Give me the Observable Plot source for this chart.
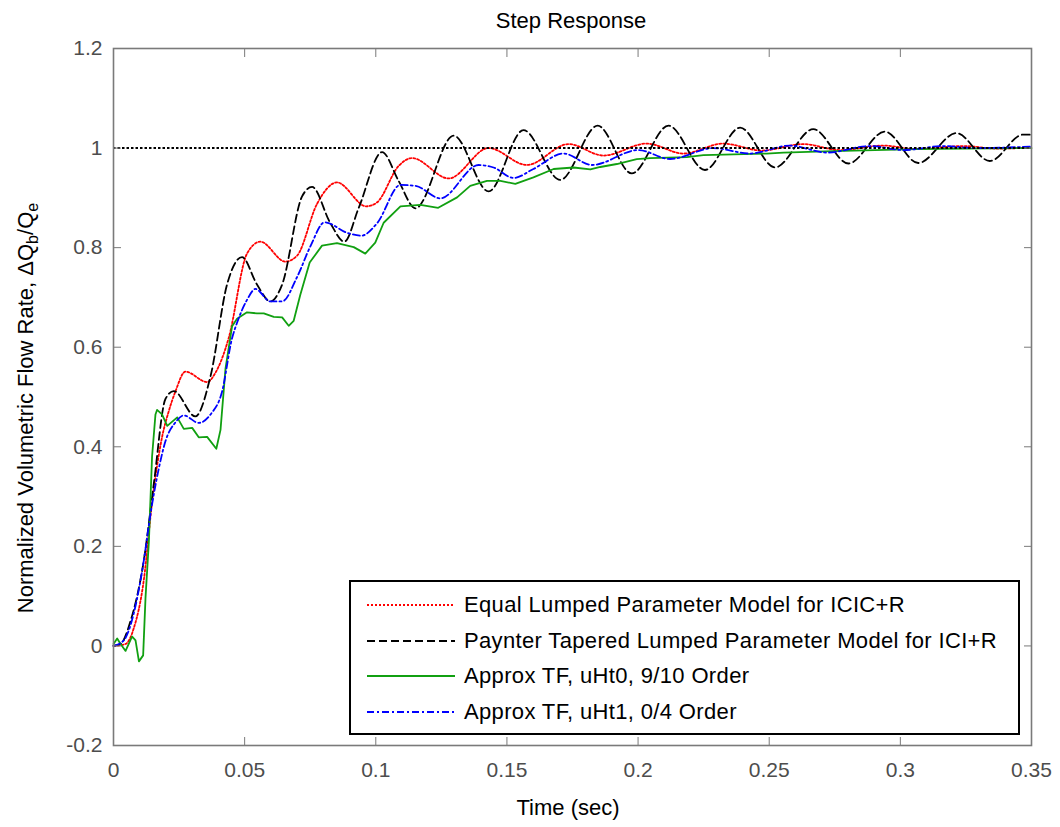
<!DOCTYPE html>
<html>
<head>
<meta charset="utf-8">
<script src="https://cdn.jsdelivr.net/npm/d3@7"></script>
<script src="https://cdn.jsdelivr.net/npm/@observablehq/plot@0.6"></script>
<style>
  body { margin: 0; background: #fff; font-family: "Liberation Sans", Arial, Helvetica, sans-serif; }
  #wrap { position: relative; width: 1060px; height: 827px; overflow: hidden; }
  #wrap > svg { position: absolute; left: 0; top: 0; }
</style>
</head>
<body>
<div id="wrap"></div>
<script>
// ---- data ----
const seriesNames = [
  "Equal Lumped Parameter Model for ICIC+R",
  "Paynter Tapered Lumped Parameter Model for ICI+R",
  "Approx TF, uHt0, 9/10 Order",
  "Approx TF, uHt1, 0/4 Order"
];

const tEqual = [0, 0.0046, 0.0077, 0.0116, 0.0147, 0.0185, 0.0211, 0.0236, 0.0274, 0.0357, 0.0389, 0.0439, 0.0509, 0.056, 0.0655, 0.07, 0.0776, 0.0852, 0.0964, 0.1005, 0.1087, 0.1138, 0.1278, 0.143, 0.1576, 0.1735, 0.1868, 0.2033, 0.2173, 0.2325, 0.2471, 0.263, 0.277, 0.2935, 0.3058, 0.324, 0.337, 0.35];
const vEqual = [0, 0.004, 0.035, 0.134, 0.288, 0.419, 0.472, 0.511, 0.551, 0.530, 0.549, 0.618, 0.788, 0.812, 0.772, 0.784, 0.888, 0.931, 0.883, 0.891, 0.964, 0.980, 0.939, 1.0, 0.966, 1.008, 0.985, 1.009, 0.989, 1.009, 0.995, 1.008, 0.996, 1.005, 0.998, 1.004, 0.999, 1.001];

const tPaynter = [0, 0.0027, 0.0065, 0.0116, 0.0154, 0.0198, 0.023, 0.0312, 0.037, 0.0433, 0.049, 0.0547, 0.0598, 0.0643, 0.0719, 0.0757, 0.0827, 0.088, 0.0935, 0.1024, 0.1087, 0.1151, 0.1297, 0.143, 0.1563, 0.1703, 0.1846, 0.1976, 0.2116, 0.2255, 0.2389, 0.2522, 0.2668, 0.2802, 0.2941, 0.3068, 0.3214, 0.3341, 0.3468, 0.35];
const vPaynter = [0, 0.004, 0.05, 0.173, 0.327, 0.496, 0.512, 0.461, 0.542, 0.726, 0.781, 0.726, 0.692, 0.726, 0.903, 0.922, 0.849, 0.812, 0.880, 0.992, 0.934, 0.879, 1.025, 0.913, 1.036, 0.936, 1.045, 0.949, 1.045, 0.956, 1.041, 0.961, 1.038, 0.969, 1.033, 0.970, 1.030, 0.974, 1.027, 1.027];

const tUht0 = [0, 0.0014, 0.0027, 0.0046, 0.0071, 0.0084, 0.0097, 0.0113, 0.0122, 0.0135, 0.0147, 0.016, 0.0166, 0.0185, 0.0205, 0.0243, 0.0268, 0.03, 0.0325, 0.0357, 0.0392, 0.0408, 0.0427, 0.0452, 0.0471, 0.0509, 0.0547, 0.0573, 0.0611, 0.0643, 0.0668, 0.0687, 0.0712, 0.0748, 0.0795, 0.0852, 0.0916, 0.096, 0.0998, 0.103, 0.1094, 0.117, 0.1238, 0.131, 0.136, 0.1424, 0.1475, 0.1532, 0.1601, 0.1678, 0.1754, 0.1818, 0.1856, 0.1919, 0.1995, 0.2046, 0.2186, 0.2249, 0.249, 0.2554, 0.2744, 0.3062, 0.35];
const vUht0 = [0.004, 0.015, 0.004, -0.01, 0.019, 0.011, -0.031, -0.019, 0.096, 0.211, 0.38, 0.465, 0.474, 0.465, 0.442, 0.459, 0.436, 0.438, 0.419, 0.42, 0.396, 0.434, 0.557, 0.642, 0.657, 0.670, 0.668, 0.668, 0.661, 0.66, 0.643, 0.653, 0.705, 0.77, 0.804, 0.809, 0.801, 0.788, 0.81, 0.85, 0.883, 0.886, 0.88, 0.901, 0.924, 0.934, 0.934, 0.928, 0.941, 0.958, 0.961, 0.957, 0.962, 0.968, 0.978, 0.980, 0.982, 0.986, 0.989, 0.991, 0.994, 0.998, 1.0];

const tUht1 = [0, 0.0039, 0.0077, 0.0116, 0.0141, 0.0173, 0.0198, 0.0236, 0.0268, 0.0325, 0.037, 0.0414, 0.0452, 0.0471, 0.0509, 0.0541, 0.0598, 0.0643, 0.07, 0.0751, 0.0805, 0.089, 0.0945, 0.1005, 0.1094, 0.1152, 0.1246, 0.1392, 0.1449, 0.1525, 0.1601, 0.1716, 0.1824, 0.2001, 0.2122, 0.2287, 0.2427, 0.2579, 0.2719, 0.2884, 0.3012, 0.3163, 0.329, 0.35];
const vUht1 = [0, 0.011, 0.065, 0.173, 0.265, 0.357, 0.411, 0.449, 0.463, 0.448, 0.465, 0.511, 0.618, 0.649, 0.695, 0.717, 0.692, 0.692, 0.741, 0.803, 0.851, 0.830, 0.824, 0.849, 0.926, 0.924, 0.899, 0.966, 0.961, 0.940, 0.958, 0.989, 0.966, 0.996, 0.978, 1.0, 0.989, 1.005, 0.991, 1.004, 0.996, 1.004, 1.0, 1.003];

const referenceLevel = [1];
const xTicks = [0, 0.05, 0.1, 0.15, 0.2, 0.25, 0.3, 0.35];
const yTicks = [-0.2, 0, 0.2, 0.4, 0.6, 0.8, 1, 1.2];

// ---- build ----
const rows = (t, v) => t.map((d, i) => ({t: d, v: v[i]}));
const fmt = d => String(+d.toFixed(2));
const font = '"Liberation Sans", Arial, Helvetica, sans-serif';

const series = [
  {name: seriesNames[0], data: rows(tEqual, vEqual), stroke: "#ff0000", dash: "2,2", width: 1.8, curve: "monotone-x"},
  {name: seriesNames[1], data: rows(tPaynter, vPaynter), stroke: "#000000", dash: "8,4", width: 1.8, curve: "monotone-x"},
  {name: seriesNames[2], data: rows(tUht0, vUht0), stroke: "#11a011", dash: null, width: 1.8, curve: "linear"},
  {name: seriesNames[3], data: rows(tUht1, vUht1), stroke: "#0000ff", dash: "7,3,2,3", width: 1.8, curve: "monotone-x"}
];

const axisColor = "#7a7a7a";
const labelColor = "#4d4d4d";

const chart = Plot.plot({
  width: 1060,
  height: 827,
  marginLeft: 113,
  marginRight: 29,
  marginTop: 48,
  marginBottom: 82,
  style: {fontFamily: font, fontSize: "21px", background: "#fff", overflow: "visible"},
  x: {domain: [0, 0.35]},
  y: {domain: [-0.2, 1.2]},
  marks: [
    ...series.map(s => Plot.line(s.data, {
      x: "t", y: "v", stroke: s.stroke, strokeWidth: s.width,
      strokeDasharray: s.dash, curve: s.curve
    })),
    Plot.ruleY(referenceLevel, {stroke: "#000", strokeWidth: 2, strokeDasharray: "2.5,2"}),
    Plot.frame({stroke: axisColor, strokeWidth: 1.6}),
    Plot.axisX({anchor: "bottom", ticks: xTicks, tickFormat: fmt, tickSize: -8, tickPadding: 25,
      label: null, stroke: axisColor, fill: labelColor, fontSize: 21}),
    Plot.axisX({anchor: "top", ticks: xTicks, tickFormat: fmt, tickSize: -8,
      label: null, stroke: axisColor, fill: "none"}),
    Plot.axisY({anchor: "left", ticks: yTicks, tickFormat: fmt, tickSize: -8, tickPadding: 19,
      label: null, stroke: axisColor, fill: labelColor, fontSize: 21}),
    Plot.axisY({anchor: "right", ticks: yTicks, tickFormat: fmt, tickSize: -8,
      label: null, stroke: axisColor, fill: "none"})
  ]
});

document.getElementById("wrap").appendChild(chart);

// title and axis labels
const svg = d3.select(chart);
svg.append("text")
  .attr("x", 571).attr("y", 28)
  .attr("text-anchor", "middle")
  .attr("font-family", font).attr("font-size", 22).attr("fill", "#000")
  .text("Step Response");
svg.append("text")
  .attr("x", 568).attr("y", 815)
  .attr("text-anchor", "middle")
  .attr("font-family", font).attr("font-size", 22).attr("fill", "#000")
  .text("Time (sec)");
const yl = svg.append("text")
  .attr("transform", "translate(33,408) rotate(-90)")
  .attr("text-anchor", "middle")
  .attr("font-family", font).attr("font-size", 22).attr("fill", "#000");
yl.append("tspan").text("Normalized Volumetric Flow Rate, \u0394Q");
yl.append("tspan").attr("dy", 5).attr("font-size", 16).text("b");
yl.append("tspan").attr("dy", -5).text("/Q");
yl.append("tspan").attr("dy", 5).attr("font-size", 16).text("e");

// legend box
const legend = d3.select("#wrap").append("div")
  .style("position", "absolute").style("left", "349px").style("top", "580px")
  .style("width", "671px").style("height", "155px").style("box-sizing", "border-box")
  .style("border", "2px solid #000").style("background", "#fff");
const rowCenters = [23, 59, 94, 130];
series.forEach((s, i) => {
  const row = legend.append("div")
    .style("position", "absolute").style("left", "16px").style("top", (rowCenters[i] - 14) + "px")
    .style("height", "28px").style("display", "flex").style("align-items", "center")
    .style("white-space", "nowrap");
  const ls = row.append("svg").attr("width", 88).attr("height", 28).style("display", "block").style("flex", "none");
  ls.append("line").attr("x1", 0).attr("x2", 88).attr("y1", 14).attr("y2", 14)
    .attr("stroke", s.stroke).attr("stroke-width", s.width)
    .attr("stroke-dasharray", s.dash);
  row.append("span")
    .style("margin-left", "9px").style("font-family", font).style("font-size", "22px")
    .style("letter-spacing", "0.35px")
    .style("line-height", "28px").style("color", "#000")
    .text(s.name);
});
</script>
</body>
</html>
